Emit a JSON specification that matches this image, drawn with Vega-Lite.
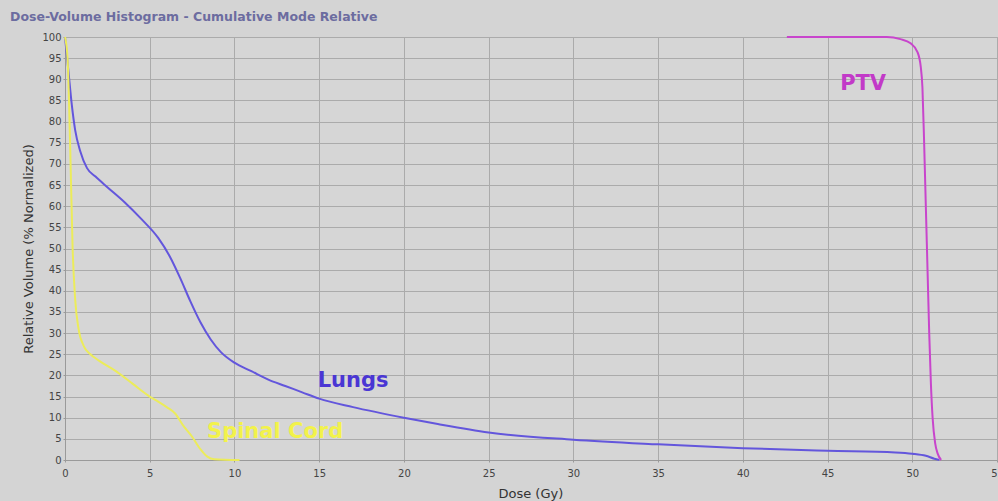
{
  "$schema": "https://vega.github.io/schema/vega-lite/v6.json",
  "autosize": "none",
  "width": 932,
  "height": 423,
  "padding": {"left": 65, "top": 37, "right": 1, "bottom": 41},
  "background": "#d4d4d4",
  "title": {
    "text": "Dose-Volume Histogram - Cumulative Mode Relative",
    "anchor": "start",
    "frame": "group",
    "dx": -55,
    "offset": 9,
    "fontSize": 12.5,
    "fontWeight": "bold",
    "font": "DejaVu Sans",
    "color": "#6c6ca0"
  },
  "config": {
    "view": {"stroke": "#a9a9a9", "fill": "#d6d6d6"},
    "axis": {
      "labelFont": "DejaVu Sans",
      "labelFontSize": 10,
      "labelColor": "#444444",
      "titleFont": "DejaVu Sans",
      "titleFontSize": 13,
      "titleFontWeight": "normal",
      "titleColor": "#333333",
      "gridColor": "#ababab",
      "gridOpacity": 1,
      "domainColor": "#9a9a9a",
      "tickColor": "#9a9a9a",
      "tickSize": 2,
      "labelOverlap": false
    }
  },
  "datasets": {
    "curves": [
      {"structure": "Lungs", "dose": 0.0, "volume": 100},
      {"structure": "Lungs", "dose": 0.2, "volume": 92},
      {"structure": "Lungs", "dose": 0.4, "volume": 84},
      {"structure": "Lungs", "dose": 0.6, "volume": 78},
      {"structure": "Lungs", "dose": 0.9, "volume": 73},
      {"structure": "Lungs", "dose": 1.3, "volume": 69},
      {"structure": "Lungs", "dose": 1.8, "volume": 67},
      {"structure": "Lungs", "dose": 2.5, "volume": 64.5},
      {"structure": "Lungs", "dose": 3.5, "volume": 61},
      {"structure": "Lungs", "dose": 4.5, "volume": 57},
      {"structure": "Lungs", "dose": 5.5, "volume": 52.5},
      {"structure": "Lungs", "dose": 6.2, "volume": 48},
      {"structure": "Lungs", "dose": 6.8, "volume": 43},
      {"structure": "Lungs", "dose": 7.4, "volume": 37.5},
      {"structure": "Lungs", "dose": 8.0, "volume": 32.5},
      {"structure": "Lungs", "dose": 8.6, "volume": 28.5},
      {"structure": "Lungs", "dose": 9.2, "volume": 25.5},
      {"structure": "Lungs", "dose": 10, "volume": 23},
      {"structure": "Lungs", "dose": 11, "volume": 21},
      {"structure": "Lungs", "dose": 12, "volume": 19},
      {"structure": "Lungs", "dose": 13, "volume": 17.5},
      {"structure": "Lungs", "dose": 14, "volume": 16},
      {"structure": "Lungs", "dose": 15, "volume": 14.5},
      {"structure": "Lungs", "dose": 17, "volume": 12.5},
      {"structure": "Lungs", "dose": 20, "volume": 10},
      {"structure": "Lungs", "dose": 22, "volume": 8.5},
      {"structure": "Lungs", "dose": 25, "volume": 6.5},
      {"structure": "Lungs", "dose": 30, "volume": 4.8},
      {"structure": "Lungs", "dose": 35, "volume": 3.7},
      {"structure": "Lungs", "dose": 40, "volume": 2.8},
      {"structure": "Lungs", "dose": 45, "volume": 2.2},
      {"structure": "Lungs", "dose": 49, "volume": 1.8},
      {"structure": "Lungs", "dose": 50, "volume": 1.5},
      {"structure": "Lungs", "dose": 50.8, "volume": 1},
      {"structure": "Lungs", "dose": 51.3, "volume": 0.3},
      {"structure": "Lungs", "dose": 51.6, "volume": 0},
      {"structure": "Spinal Cord", "dose": 0.0, "volume": 100},
      {"structure": "Spinal Cord", "dose": 0.15, "volume": 95},
      {"structure": "Spinal Cord", "dose": 0.3, "volume": 75},
      {"structure": "Spinal Cord", "dose": 0.45, "volume": 50},
      {"structure": "Spinal Cord", "dose": 0.6, "volume": 38},
      {"structure": "Spinal Cord", "dose": 0.8, "volume": 31},
      {"structure": "Spinal Cord", "dose": 1.1, "volume": 27},
      {"structure": "Spinal Cord", "dose": 1.5, "volume": 25},
      {"structure": "Spinal Cord", "dose": 2.0, "volume": 23.5},
      {"structure": "Spinal Cord", "dose": 3.0, "volume": 21},
      {"structure": "Spinal Cord", "dose": 4.0, "volume": 18},
      {"structure": "Spinal Cord", "dose": 5.0, "volume": 15},
      {"structure": "Spinal Cord", "dose": 5.5, "volume": 13.8},
      {"structure": "Spinal Cord", "dose": 6.0, "volume": 12.5},
      {"structure": "Spinal Cord", "dose": 6.5, "volume": 11},
      {"structure": "Spinal Cord", "dose": 7.0, "volume": 8},
      {"structure": "Spinal Cord", "dose": 7.5, "volume": 5.5},
      {"structure": "Spinal Cord", "dose": 8.0, "volume": 2.5},
      {"structure": "Spinal Cord", "dose": 8.4, "volume": 0.8},
      {"structure": "Spinal Cord", "dose": 8.8, "volume": 0.2},
      {"structure": "Spinal Cord", "dose": 10.3, "volume": 0},
      {"structure": "PTV", "dose": 42.6, "volume": 100},
      {"structure": "PTV", "dose": 48.5, "volume": 100},
      {"structure": "PTV", "dose": 49.3, "volume": 99.5},
      {"structure": "PTV", "dose": 49.9, "volume": 98.5},
      {"structure": "PTV", "dose": 50.3, "volume": 96.5},
      {"structure": "PTV", "dose": 50.5, "volume": 93},
      {"structure": "PTV", "dose": 50.6, "volume": 88},
      {"structure": "PTV", "dose": 50.7, "volume": 75},
      {"structure": "PTV", "dose": 50.8, "volume": 60},
      {"structure": "PTV", "dose": 50.9, "volume": 45},
      {"structure": "PTV", "dose": 51.0, "volume": 30},
      {"structure": "PTV", "dose": 51.1, "volume": 18},
      {"structure": "PTV", "dose": 51.2, "volume": 10},
      {"structure": "PTV", "dose": 51.35, "volume": 4},
      {"structure": "PTV", "dose": 51.5, "volume": 1.5},
      {"structure": "PTV", "dose": 51.7, "volume": 0}
    ],
    "labels": [
      {"structure": "PTV", "dose": 47.1, "volume": 88.9},
      {"structure": "Lungs", "dose": 17.0, "volume": 18.7},
      {"structure": "Spinal Cord", "dose": 12.4, "volume": 6.6}
    ]
  },
  "encoding": {
    "x": {
      "field": "dose", "type": "quantitative",
      "scale": {"domain": [0, 55], "nice": false},
      "axis": {"values": [0,5,10,15,20,25,30,35,40,45,50,55], "title": "Dose (Gy)", "labelFlush": false, "labelPadding": 6, "titleX": 433, "titleY": 37, "titleAlign": "left", "titleAnchor": "start", "titleBaseline": "alphabetic"}
    },
    "y": {
      "field": "volume", "type": "quantitative",
      "scale": {"domain": [0, 100], "nice": false},
      "axis": {"values": [0,5,10,15,20,25,30,35,40,45,50,55,60,65,70,75,80,85,90,95,100], "title": "Relative Volume (% Normalized)", "labelPadding": 2, "titlePadding": 6}
    }
  },
  "layer": [
    {
      "data": {"name": "curves"},
      "mark": {"type": "line", "strokeWidth": 2, "interpolate": "monotone"},
      "encoding": {
        "color": {
          "field": "structure", "type": "nominal",
          "scale": {"domain": ["Lungs", "Spinal Cord", "PTV"], "range": ["#6356dc", "#ecec5a", "#c845cc"]},
          "legend": null
        },
        "detail": {"field": "structure"}
      }
    },
    {
      "data": {"name": "labels"},
      "mark": {"type": "text", "font": "DejaVu Sans", "fontWeight": "bold", "fontSize": 21, "align": "center", "baseline": "middle"},
      "encoding": {
        "text": {"field": "structure"},
        "color": {
          "field": "structure", "type": "nominal",
          "scale": {"domain": ["Lungs", "Spinal Cord", "PTV"], "range": ["#4a36d4", "#f2f24a", "#c23ac8"]},
          "legend": null
        }
      }
    }
  ],
  "resolve": {"scale": {"color": "independent"}}
}
